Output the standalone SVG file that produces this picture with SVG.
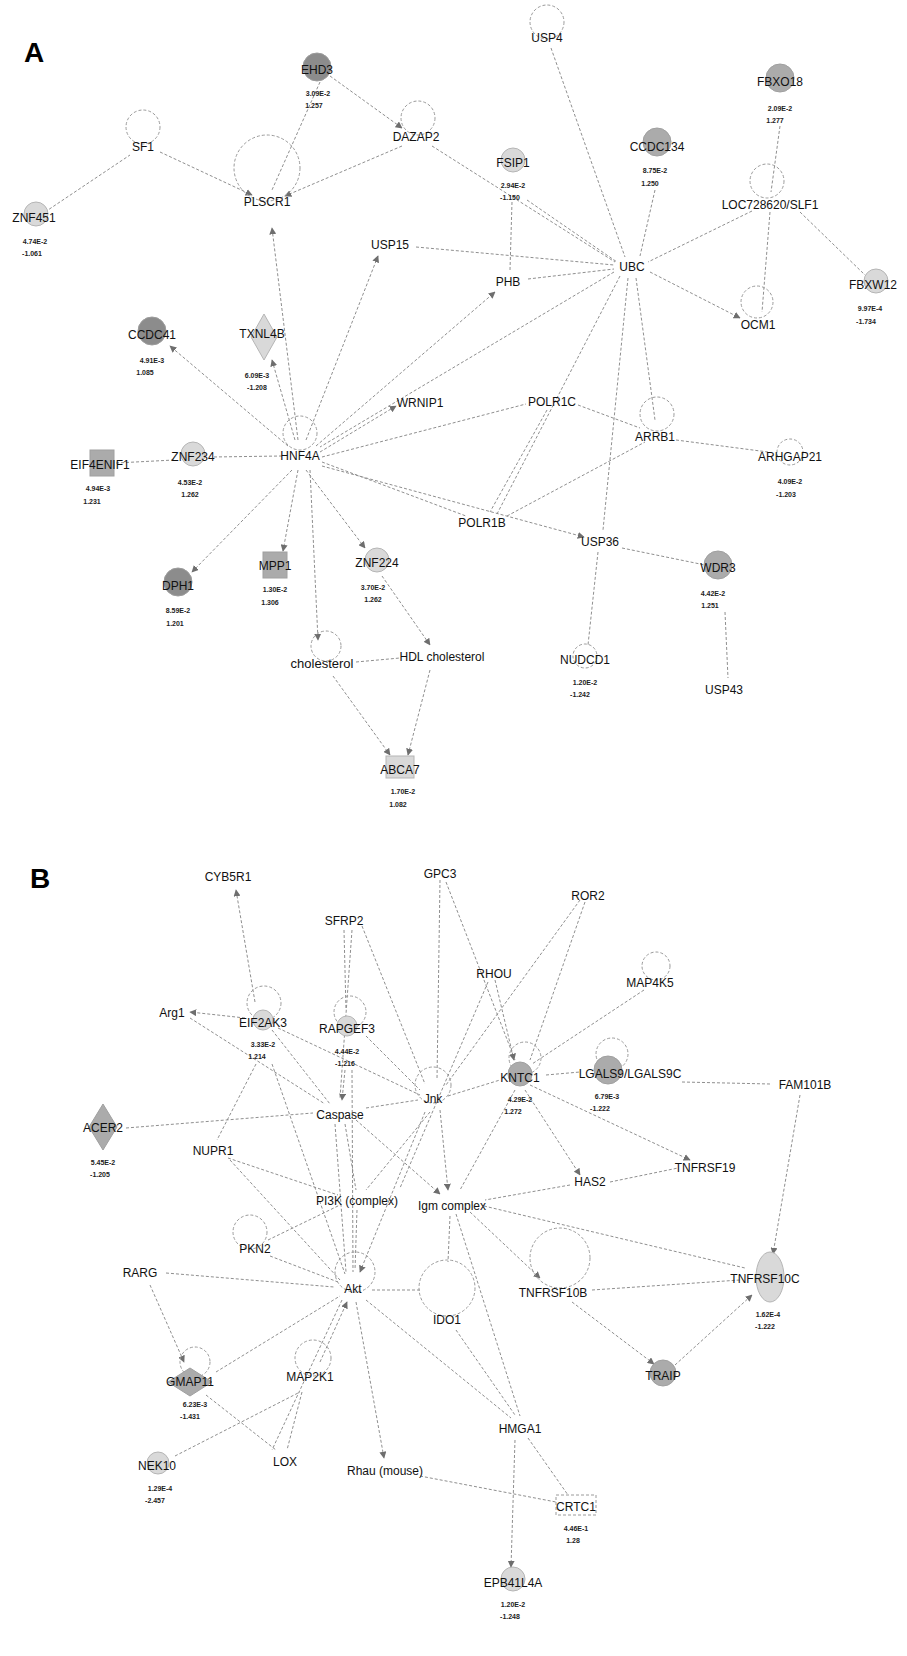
<svg xmlns="http://www.w3.org/2000/svg" width="907" height="1656" viewBox="0 0 907 1656">
<defs>
<marker id="ar" viewBox="0 0 10 10" refX="9" refY="5" markerWidth="7" markerHeight="7" orient="auto-start-reverse"><path d="M0,0 L10,5 L0,10 z" fill="#6e6e6e"/></marker>
<style>
.e{stroke:#8f8f8f;stroke-width:1;stroke-dasharray:3 2;fill:none}
.a{stroke:#8f8f8f;stroke-width:1;stroke-dasharray:3 2;fill:none;marker-end:url(#ar)}
.lp{stroke:#9a9a9a;stroke-width:1;stroke-dasharray:3 2;fill:none}
.t{font-family:"Liberation Sans",Arial,sans-serif;font-size:12px;fill:#111;text-anchor:middle}
.v{font-family:"Liberation Sans",Arial,sans-serif;font-size:7px;fill:#222;text-anchor:middle;font-weight:bold}
.big{font-family:"Liberation Sans",Arial,sans-serif;font-size:28px;font-weight:bold;fill:#000}
.dk{fill:#8c8c8c;stroke:#9c9c9c;stroke-width:1}
.md{fill:#ababab;stroke:#a0a0a0;stroke-width:1}
.lt{fill:#d9d9d9;stroke:#b5b5b5;stroke-width:1}
</style>
</defs>
<rect width="907" height="1656" fill="#fff"/>
<text class="big" x="24" y="62">A</text>
<text class="big" x="30" y="888">B</text>

<g id="connectors">
<!-- Panel A -->
<line class="e" x1="45" y1="212" x2="130" y2="155"/>
<line class="a" x1="160" y1="152" x2="252" y2="195"/>
<line class="e" x1="320" y1="82" x2="272" y2="190"/>
<line class="a" x1="330" y1="76" x2="402" y2="128"/>
<line class="a" x1="402" y1="146" x2="285" y2="196"/>
<line class="e" x1="432" y1="146" x2="615" y2="262"/>
<line class="a" x1="298" y1="440" x2="272" y2="228"/>
<line class="a" x1="306" y1="440" x2="378" y2="256"/>
<line class="e" x1="416" y1="247" x2="614" y2="265"/>
<line class="e" x1="551" y1="48" x2="625" y2="257"/>
<line class="e" x1="655" y1="190" x2="640" y2="256"/>
<line class="e" x1="527" y1="200" x2="617" y2="262"/>
<line class="e" x1="512" y1="202" x2="510" y2="270"/>
<line class="e" x1="528" y1="279" x2="614" y2="269"/>
<line class="a" x1="316" y1="446" x2="495" y2="292"/>
<line class="e" x1="780" y1="126" x2="771" y2="192"/>
<line class="e" x1="752" y1="211" x2="648" y2="262"/>
<line class="e" x1="770" y1="212" x2="762" y2="312"/>
<line class="e" x1="800" y1="212" x2="865" y2="275"/>
<line class="a" x1="650" y1="272" x2="740" y2="318"/>
<line class="e" x1="636" y1="278" x2="655" y2="420"/>
<line class="e" x1="628" y1="278" x2="603" y2="530"/>
<line class="e" x1="620" y1="276" x2="497" y2="514"/>
<line class="e" x1="614" y1="272" x2="320" y2="447"/>
<line class="a" x1="320" y1="452" x2="396" y2="406"/>
<line class="e" x1="322" y1="457" x2="526" y2="404"/>
<line class="e" x1="578" y1="405" x2="640" y2="428"/>
<line class="e" x1="547" y1="410" x2="490" y2="512"/>
<line class="e" x1="507" y1="516" x2="645" y2="442"/>
<line class="e" x1="676" y1="440" x2="768" y2="452"/>
<line class="e" x1="322" y1="462" x2="466" y2="516"/>
<line class="a" x1="322" y1="466" x2="584" y2="537"/>
<line class="e" x1="622" y1="548" x2="705" y2="565"/>
<line class="e" x1="598" y1="552" x2="588" y2="645"/>
<line class="e" x1="725" y1="612" x2="728" y2="678"/>
<line class="a" x1="288" y1="446" x2="170" y2="346"/>
<line class="a" x1="295" y1="440" x2="272" y2="360"/>
<line class="e" x1="282" y1="456" x2="212" y2="457"/>
<line class="e" x1="174" y1="460" x2="116" y2="463"/>
<line class="a" x1="292" y1="470" x2="192" y2="572"/>
<line class="a" x1="298" y1="470" x2="283" y2="551"/>
<line class="a" x1="306" y1="470" x2="365" y2="548"/>
<line class="a" x1="310" y1="470" x2="318" y2="640"/>
<line class="a" x1="382" y1="576" x2="430" y2="645"/>
<line class="e" x1="356" y1="662" x2="400" y2="658"/>
<line class="a" x1="333" y1="676" x2="390" y2="755"/>
<line class="a" x1="430" y1="670" x2="408" y2="755"/>

<!-- Panel B -->
<line class="a" x1="255" y1="1002" x2="236" y2="890"/>
<line class="a" x1="245" y1="1018" x2="190" y2="1012"/>
<line class="e" x1="190" y1="1018" x2="325" y2="1104"/>
<line class="e" x1="344" y1="930" x2="346" y2="1010"/>
<line class="e" x1="362" y1="926" x2="425" y2="1084"/>
<line class="e" x1="352" y1="930" x2="340" y2="1098"/>
<line class="e" x1="440" y1="880" x2="437" y2="1080"/>
<line class="e" x1="446" y1="882" x2="515" y2="1060"/>
<line class="e" x1="585" y1="902" x2="530" y2="1060"/>
<line class="e" x1="580" y1="900" x2="446" y2="1085"/>
<line class="a" x1="495" y1="980" x2="514" y2="1060"/>
<line class="e" x1="488" y1="982" x2="400" y2="1188"/>
<line class="e" x1="644" y1="990" x2="532" y2="1064"/>
<line class="e" x1="272" y1="1030" x2="330" y2="1104"/>
<line class="e" x1="278" y1="1028" x2="420" y2="1095"/>
<line class="e" x1="256" y1="1064" x2="217" y2="1140"/>
<line class="e" x1="272" y1="1064" x2="345" y2="1274"/>
<line class="a" x1="345" y1="1070" x2="342" y2="1100"/>
<line class="e" x1="352" y1="1070" x2="353" y2="1272"/>
<line class="e" x1="366" y1="1036" x2="420" y2="1090"/>
<line class="e" x1="126" y1="1128" x2="313" y2="1113"/>
<line class="e" x1="366" y1="1108" x2="418" y2="1100"/>
<line class="a" x1="356" y1="1120" x2="440" y2="1194"/>
<line class="e" x1="345" y1="1124" x2="356" y2="1190"/>
<line class="e" x1="335" y1="1124" x2="346" y2="1272"/>
<line class="a" x1="440" y1="1110" x2="448" y2="1190"/>
<line class="a" x1="425" y1="1112" x2="360" y2="1272"/>
<line class="e" x1="430" y1="1112" x2="366" y2="1190"/>
<line class="e" x1="448" y1="1096" x2="500" y2="1080"/>
<line class="e" x1="546" y1="1075" x2="580" y2="1072"/>
<line class="e" x1="682" y1="1082" x2="770" y2="1084"/>
<line class="a" x1="530" y1="1085" x2="690" y2="1160"/>
<line class="e" x1="515" y1="1090" x2="460" y2="1190"/>
<line class="a" x1="525" y1="1090" x2="580" y2="1175"/>
<line class="e" x1="570" y1="1185" x2="485" y2="1200"/>
<line class="e" x1="610" y1="1182" x2="678" y2="1168"/>
<line class="a" x1="800" y1="1095" x2="773" y2="1254"/>
<line class="a" x1="470" y1="1212" x2="540" y2="1278"/>
<line class="e" x1="484" y1="1206" x2="745" y2="1268"/>
<line class="e" x1="592" y1="1290" x2="740" y2="1280"/>
<line class="a" x1="572" y1="1302" x2="654" y2="1364"/>
<line class="a" x1="675" y1="1365" x2="752" y2="1295"/>
<line class="e" x1="230" y1="1160" x2="340" y2="1280"/>
<line class="e" x1="228" y1="1158" x2="338" y2="1195"/>
<line class="e" x1="270" y1="1256" x2="338" y2="1282"/>
<line class="e" x1="268" y1="1240" x2="340" y2="1205"/>
<line class="e" x1="166" y1="1273" x2="334" y2="1287"/>
<line class="a" x1="150" y1="1285" x2="184" y2="1362"/>
<line class="e" x1="216" y1="1372" x2="340" y2="1296"/>
<line class="e" x1="206" y1="1395" x2="276" y2="1450"/>
<line class="e" x1="175" y1="1456" x2="300" y2="1392"/>
<line class="a" x1="320" y1="1362" x2="347" y2="1302"/>
<line class="e" x1="302" y1="1392" x2="287" y2="1450"/>
<line class="a" x1="356" y1="1302" x2="384" y2="1458"/>
<line class="e" x1="420" y1="1476" x2="556" y2="1502"/>
<line class="e" x1="372" y1="1290" x2="420" y2="1290"/>
<line class="e" x1="366" y1="1300" x2="511" y2="1418"/>
<line class="e" x1="456" y1="1214" x2="520" y2="1416"/>
<line class="e" x1="528" y1="1438" x2="568" y2="1495"/>
<line class="a" x1="515" y1="1440" x2="511" y2="1567"/>
<line class="e" x1="342" y1="1300" x2="272" y2="1450"/>
<line class="e" x1="357" y1="1210" x2="355" y2="1270"/>
<line class="e" x1="450" y1="1216" x2="448" y2="1262"/>
<line class="e" x1="456" y1="1330" x2="515" y2="1415"/>
</g>

<!-- Panel A nodes -->
<g id="EHD3"><circle class="dk" cx="317" cy="67" r="14"/><text class="t" x="317" y="74">EHD3</text><text class="v" x="318" y="96">3.09E-2</text><text class="v" x="314" y="108">1.257</text></g>
<g id="SF1"><circle class="lp" cx="143" cy="127" r="17"/><text class="t" x="143" y="151">SF1</text></g>
<g id="ZNF451"><circle class="lt" cx="36" cy="214" r="12"/><text class="t" x="34" y="222">ZNF451</text><text class="v" x="35" y="244">4.74E-2</text><text class="v" x="32" y="256">-1.061</text></g>
<g id="PLSCR1"><circle class="lp" cx="267" cy="168" r="33"/><text class="t" x="267" y="206">PLSCR1</text></g>
<g id="DAZAP2"><circle class="lp" cx="418" cy="118" r="17"/><text class="t" x="416" y="141">DAZAP2</text></g>
<g id="USP4"><circle class="lp" cx="547" cy="22" r="17"/><text class="t" x="547" y="42">USP4</text></g>
<g id="FBXO18"><circle class="md" cx="780" cy="78" r="14"/><text class="t" x="780" y="86">FBXO18</text><text class="v" x="780" y="111">2.09E-2</text><text class="v" x="775" y="123">1.277</text></g>
<g id="CCDC134"><circle class="md" cx="657" cy="142" r="14"/><text class="t" x="657" y="151">CCDC134</text><text class="v" x="655" y="173">8.75E-2</text><text class="v" x="650" y="186">1.250</text></g>
<g id="FSIP1"><circle class="lt" cx="513" cy="160" r="12"/><text class="t" x="513" y="167">FSIP1</text><text class="v" x="513" y="188">2.94E-2</text><text class="v" x="510" y="200">-1.150</text></g>
<g id="LOC728620"><circle class="lp" cx="767" cy="181" r="17"/><text class="t" x="770" y="209">LOC728620/SLF1</text></g>
<g id="USP15"><text class="t" x="390" y="249">USP15</text></g>
<g id="UBC"><text class="t" x="632" y="271">UBC</text></g>
<g id="PHB"><text class="t" x="508" y="286">PHB</text></g>
<g id="FBXW12"><circle class="lt" cx="876" cy="281" r="12"/><text class="t" x="873" y="289">FBXW12</text><text class="v" x="870" y="311">9.97E-4</text><text class="v" x="866" y="324">-1.734</text></g>
<g id="OCM1"><circle class="lp" cx="757" cy="302" r="16"/><text class="t" x="758" y="329">OCM1</text></g>
<g id="CCDC41"><circle class="dk" cx="152" cy="331" r="14"/><text class="t" x="152" y="339">CCDC41</text><text class="v" x="152" y="363">4.91E-3</text><text class="v" x="145" y="375">1.085</text></g>
<g id="TXNL4B"><polygon class="lt" points="264,314 277,337 264,360 251,337"/><text class="t" x="262" y="338">TXNL4B</text><text class="v" x="257" y="378">6.09E-3</text><text class="v" x="257" y="390">-1.208</text></g>
<g id="HNF4A"><circle class="lp" cx="300" cy="433" r="17"/><text class="t" x="300" y="460">HNF4A</text></g>
<g id="WRNIP1"><text class="t" x="420" y="407">WRNIP1</text></g>
<g id="ZNF234"><circle class="lt" cx="193" cy="454" r="12"/><text class="t" x="193" y="461">ZNF234</text><text class="v" x="190" y="485">4.53E-2</text><text class="v" x="190" y="497">1.262</text></g>
<g id="EIF4ENIF1"><rect class="md" x="90" y="450" width="24" height="26"/><text class="t" x="100" y="469">EIF4ENIF1</text><text class="v" x="98" y="491">4.94E-3</text><text class="v" x="92" y="504">1.231</text></g>
<g id="POLR1C"><text class="t" x="552" y="406">POLR1C</text></g>
<g id="ARRB1"><circle class="lp" cx="657" cy="414" r="17"/><text class="t" x="655" y="441">ARRB1</text></g>
<g id="ARHGAP21"><circle class="lp" cx="790" cy="452" r="13"/><text class="t" x="790" y="461">ARHGAP21</text><text class="v" x="790" y="484">4.09E-2</text><text class="v" x="786" y="497">-1.203</text></g>
<g id="POLR1B"><text class="t" x="482" y="527">POLR1B</text></g>
<g id="USP36"><text class="t" x="600" y="546">USP36</text></g>
<g id="WDR3"><circle class="md" cx="718" cy="565" r="14"/><text class="t" x="718" y="572">WDR3</text><text class="v" x="713" y="596">4.42E-2</text><text class="v" x="710" y="608">1.251</text></g>
<g id="DPH1"><circle class="dk" cx="178" cy="582" r="14"/><text class="t" x="178" y="590">DPH1</text><text class="v" x="178" y="613">8.59E-2</text><text class="v" x="175" y="626">1.201</text></g>
<g id="MPP1"><rect class="md" x="263" y="552" width="24" height="26"/><text class="t" x="275" y="570">MPP1</text><text class="v" x="275" y="592">1.30E-2</text><text class="v" x="270" y="605">1.306</text></g>
<g id="ZNF224"><circle class="lt" cx="377" cy="560" r="12"/><text class="t" x="377" y="567">ZNF224</text><text class="v" x="373" y="590">3.70E-2</text><text class="v" x="373" y="602">1.262</text></g>
<g id="cholesterol"><circle class="lp" cx="326" cy="646" r="15"/><text class="t" x="322" y="668" style="font-size:13px">cholesterol</text></g>
<g id="HDL_cholesterol"><text class="t" x="442" y="661">HDL cholesterol</text></g>
<g id="NUDCD1"><circle class="lp" cx="585" cy="656" r="12"/><text class="t" x="585" y="664">NUDCD1</text><text class="v" x="585" y="685">1.20E-2</text><text class="v" x="580" y="697">-1.242</text></g>
<g id="USP43"><text class="t" x="724" y="694">USP43</text></g>
<g id="ABCA7"><rect class="lt" x="386" y="756" width="28" height="22"/><text class="t" x="400" y="774">ABCA7</text><text class="v" x="403" y="794">1.70E-2</text><text class="v" x="398" y="807">1.082</text></g>

<!-- Panel B nodes -->
<g id="CYB5R1"><text class="t" x="228" y="881">CYB5R1</text></g>
<g id="GPC3"><text class="t" x="440" y="878">GPC3</text></g>
<g id="ROR2"><text class="t" x="588" y="900">ROR2</text></g>
<g id="SFRP2"><text class="t" x="344" y="925">SFRP2</text></g>
<g id="RHOU"><text class="t" x="494" y="978">RHOU</text></g>
<g id="MAP4K5"><circle class="lp" cx="656" cy="966" r="14"/><text class="t" x="650" y="987">MAP4K5</text></g>
<g id="Arg1"><text class="t" x="172" y="1017">Arg1</text></g>
<g id="EIF2AK3"><circle class="lp" cx="264" cy="1003" r="17"/><circle class="lt" cx="263" cy="1020" r="10"/><text class="t" x="263" y="1027">EIF2AK3</text><text class="v" x="263" y="1047">3.33E-2</text><text class="v" x="257" y="1059">1.214</text></g>
<g id="RAPGEF3"><circle class="lp" cx="350" cy="1012" r="16"/><circle class="lt" cx="347" cy="1026" r="10"/><text class="t" x="347" y="1033">RAPGEF3</text><text class="v" x="347" y="1054">4.44E-2</text><text class="v" x="345" y="1066">-1.216</text></g>
<g id="Caspase"><text class="t" x="340" y="1119">Caspase</text></g>
<g id="Jnk"><circle class="lp" cx="433" cy="1085" r="18"/><text class="t" x="433" y="1103">Jnk</text></g>
<g id="KNTC1"><circle class="lp" cx="525" cy="1058" r="16"/><circle class="md" cx="520" cy="1074" r="12"/><text class="t" x="520" y="1082">KNTC1</text><text class="v" x="520" y="1102">4.29E-2</text><text class="v" x="513" y="1114">1.272</text></g>
<g id="LGALS9"><circle class="lp" cx="612" cy="1054" r="16"/><circle class="md" cx="608" cy="1070" r="14"/><text class="t" x="630" y="1078">LGALS9/LGALS9C</text><text class="v" x="607" y="1099">6.79E-3</text><text class="v" x="600" y="1111">-1.222</text></g>
<g id="FAM101B"><text class="t" x="805" y="1089">FAM101B</text></g>
<g id="ACER2"><polygon class="md" points="103,1104 117,1127 103,1150 89,1127"/><text class="t" x="103" y="1132">ACER2</text><text class="v" x="103" y="1165">5.45E-2</text><text class="v" x="100" y="1177">-1.205</text></g>
<g id="NUPR1"><text class="t" x="213" y="1155">NUPR1</text></g>
<g id="HAS2"><text class="t" x="590" y="1186">HAS2</text></g>
<g id="TNFRSF19"><text class="t" x="705" y="1172">TNFRSF19</text></g>
<g id="PI3K"><text class="t" x="357" y="1205">PI3K (complex)</text></g>
<g id="Igm"><text class="t" x="452" y="1210">Igm complex</text></g>
<g id="PKN2"><circle class="lp" cx="250" cy="1232" r="17"/><text class="t" x="255" y="1253">PKN2</text></g>
<g id="RARG"><text class="t" x="140" y="1277">RARG</text></g>
<g id="Akt"><circle class="lp" cx="355" cy="1272" r="20"/><text class="t" x="353" y="1293">Akt</text></g>
<g id="IDO1"><circle class="lp" cx="447" cy="1288" r="28"/><text class="t" x="447" y="1324">IDO1</text></g>
<g id="TNFRSF10B"><circle class="lp" cx="560" cy="1258" r="30"/><text class="t" x="553" y="1297">TNFRSF10B</text></g>
<g id="TNFRSF10C"><ellipse class="lt" cx="770" cy="1277" rx="14" ry="25"/><text class="t" x="765" y="1283">TNFRSF10C</text><text class="v" x="768" y="1317">1.62E-4</text><text class="v" x="765" y="1329">-1.222</text></g>
<g id="GMAP11"><circle class="lp" cx="195" cy="1362" r="15"/><polygon class="md" points="190,1368 212,1382 190,1396 168,1382"/><text class="t" x="190" y="1386">GMAP11</text><text class="v" x="195" y="1407">6.23E-3</text><text class="v" x="190" y="1419">-1.431</text></g>
<g id="MAP2K1"><circle class="lp" cx="313" cy="1358" r="18"/><text class="t" x="310" y="1381">MAP2K1</text></g>
<g id="TRAIP"><circle class="md" cx="663" cy="1373" r="13"/><text class="t" x="663" y="1380">TRAIP</text></g>
<g id="HMGA1"><text class="t" x="520" y="1433">HMGA1</text></g>
<g id="NEK10"><circle class="lt" cx="158" cy="1463" r="11"/><text class="t" x="157" y="1470">NEK10</text><text class="v" x="160" y="1491">1.29E-4</text><text class="v" x="155" y="1503">-2.457</text></g>
<g id="LOX"><text class="t" x="285" y="1466">LOX</text></g>
<g id="Rhau"><text class="t" x="385" y="1475">Rhau (mouse)</text></g>
<g id="CRTC1"><rect class="lp" x="556" y="1495" width="40" height="20"/><text class="t" x="576" y="1511">CRTC1</text><text class="v" x="576" y="1531">4.46E-1</text><text class="v" x="573" y="1543">1.28</text></g>
<g id="EPB41L4A"><circle class="lt" cx="513" cy="1579" r="12"/><text class="t" x="513" y="1587">EPB41L4A</text><text class="v" x="513" y="1607">1.20E-2</text><text class="v" x="510" y="1619">-1.248</text></g>
</svg>
